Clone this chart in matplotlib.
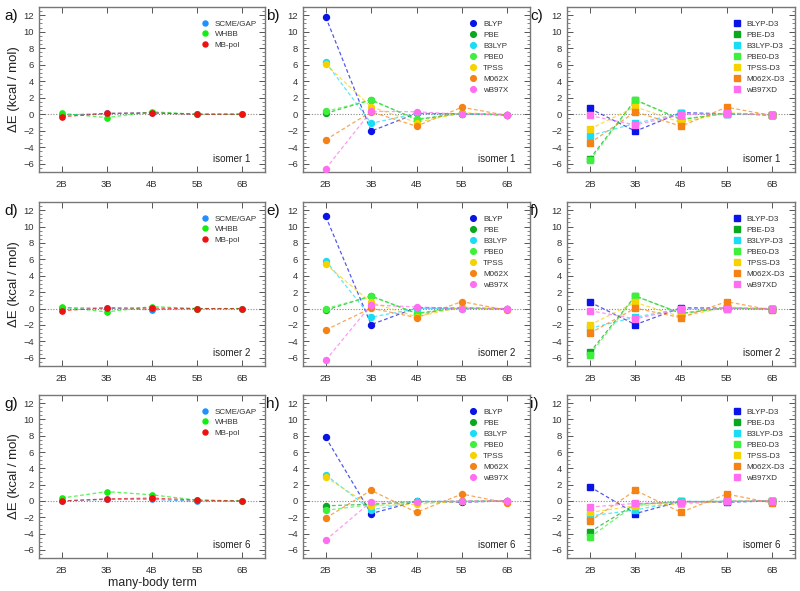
import matplotlib
matplotlib.use("Agg")
import matplotlib.pyplot as plt
from matplotlib.ticker import MultipleLocator

terms = ["2B", "3B", "4B", "5B", "6B"]

ff_names = ["SCME/GAP", "WHBB", "MB-pol"]
ff_colors = ["#1e90ff", "#11ee11", "#ee1111"]
dft_names = ["BLYP", "PBE", "B3LYP", "PBE0", "TPSS", "M062X", "wB97X"]
d3_names = ["BLYP-D3", "PBE-D3", "B3LYP-D3", "PBE0-D3", "TPSS-D3", "M062X-D3", "wB97XD"]
dft_colors = ["#0a14e6", "#0aa81e", "#19dcf5", "#3cf03c", "#f5d200", "#f58214", "#ff6ef0"]

# isomer 1
ff_iso1 = [[-0.1, 0.1, 0.2, 0.0, 0.0],
           [0.1, -0.4, 0.3, 0.0, 0.0],
           [-0.3, 0.1, 0.15, 0.0, 0.0]]
dft_iso1 = [[11.8, -2.05, 0.1, 0.05, -0.05],
            [0.1, 1.75, -0.65, 0.1, -0.1],
            [6.3, -1.1, 0.1, 0.0, -0.05],
            [0.35, 1.7, -0.6, 0.1, -0.1],
            [6.05, 0.9, -1.0, 0.2, -0.1],
            [-3.1, 0.3, -1.45, 0.85, -0.15],
            [-6.6, 0.35, 0.3, 0.0, -0.05]]
d3_iso1 = [[0.7, -2.05, 0.2, 0.05, -0.05],
           [-5.4, 1.75, -0.65, 0.1, -0.1],
           [-2.6, -1.1, 0.1, 0.0, -0.05],
           [-5.6, 1.7, -0.6, 0.1, -0.1],
           [-1.8, 0.9, -1.0, 0.2, -0.1],
           [-3.5, 0.3, -1.45, 0.85, -0.15],
           [-0.15, -1.3, -0.05, 0.1, -0.1]]

# isomer 2
ff_iso2 = [[0.1, 0.05, -0.15, 0.0, 0.0],
           [0.2, -0.4, 0.25, 0.0, 0.0],
           [-0.25, 0.1, 0.05, 0.0, 0.0]]
dft_iso2 = [[11.25, -1.95, 0.1, 0.05, 0.0],
            [-0.2, 1.55, -0.6, 0.1, -0.1],
            [5.85, -1.05, 0.0, 0.0, 0.0],
            [0.0, 1.5, -0.55, 0.1, -0.1],
            [5.4, 0.75, -1.0, 0.2, -0.1],
            [-2.6, 0.05, -1.1, 0.85, -0.2],
            [-6.3, 0.45, 0.2, 0.0, 0.0]]
d3_iso2 = [[0.8, -1.95, 0.1, 0.05, 0.0],
           [-5.35, 1.55, -0.6, 0.1, -0.1],
           [-2.4, -1.05, 0.0, 0.0, 0.0],
           [-5.65, 1.5, -0.55, 0.1, -0.1],
           [-2.0, 0.75, -1.0, 0.2, -0.1],
           [-3.0, 0.05, -1.1, 0.85, -0.2],
           [-0.25, -1.25, -0.05, 0.0, 0.0]]

# isomer 6
ff_iso6 = [[0.0, 0.2, 0.2, -0.05, 0.0],
           [0.35, 1.15, 0.75, 0.1, 0.0],
           [0.0, 0.25, 0.35, 0.1, 0.0]]
dft_iso6 = [[7.8, -1.55, -0.05, -0.15, 0.0],
            [-0.6, -0.4, -0.1, -0.05, 0.0],
            [3.2, -1.1, -0.05, -0.05, 0.0],
            [-1.15, -0.45, -0.1, -0.05, 0.0],
            [2.9, -0.6, -0.4, -0.05, 0.0],
            [-2.1, 1.3, -1.4, 0.85, -0.25],
            [-4.8, -0.1, -0.1, 0.0, 0.05]]
d3_iso6 = [[1.75, -1.55, -0.05, -0.15, 0.0],
           [-3.8, -0.4, -0.1, -0.05, 0.0],
           [-1.85, -1.1, -0.05, -0.05, 0.0],
           [-4.45, -0.45, -0.1, -0.05, 0.0],
           [-1.4, -0.6, -0.4, -0.05, 0.0],
           [-2.5, 1.3, -1.4, 0.85, -0.25],
           [-0.75, -0.3, -0.2, -0.05, 0.05]]

isomers = ["isomer 1", "isomer 2", "isomer 6"]
panel_letters = [["a)", "b)", "c)"], ["d)", "e)", "f)"], ["g)", "h)", "i)"]]
rows = [(ff_iso1, dft_iso1, d3_iso1), (ff_iso2, dft_iso2, d3_iso2), (ff_iso6, dft_iso6, d3_iso6)]

plt.rcParams['font.family'] = ['Liberation Sans', 'DejaVu Sans']

W, H = 800, 591
fig = plt.figure(figsize=(8, 5.91), dpi=100)

col_lr = [(39, 265), (303, 530), (567, 795)]
row_tb = [(7, 172), (202, 366), (395, 558)]

xpos = list(range(2, 7))
edge = "#777777"

for r in range(3):
    for c in range(3):
        l, rr = col_lr[c]
        t, b = row_tb[r]
        ax = fig.add_axes([l / W, 1 - b / H, (rr - l) / W, (b - t) / H])
        if c == 0:
            names, colors, marker, ms = ff_names, ff_colors, "o", 3.8
            anchor, lsp = (1.0, 0.97), 0.35
        elif c == 1:
            names, colors, marker, ms = dft_names, dft_colors, "o", 4.3
            anchor, lsp = (0.94, 0.97), 0.42
        else:
            names, colors, marker, ms = d3_names, dft_colors, "s", 3.8
            anchor, lsp = (0.99, 0.97), 0.42
        data = rows[r][c]
        ax.axhline(0, color="#888888", lw=0.8, ls=(0, (1, 1.5)), zorder=1)
        for name, col, vals in zip(names, colors, data):
            ax.plot(xpos, vals, ls=(0, (3, 2)), lw=0.9, color=col, alpha=0.7, zorder=2)
            ax.plot(xpos, vals, ls="none", marker=marker, ms=ms, color=col,
                    label=name, zorder=3)
        ax.set_xlim(1.5, 6.5)
        ax.set_ylim(-7, 13)
        ax.set_xticks(xpos)
        ax.set_xticklabels(terms)
        ax.set_yticks(range(-6, 13, 2))
        ax.yaxis.set_minor_locator(MultipleLocator(0.5))
        ax.tick_params(which="both", direction="in", top=True, right=True,
                       labelsize=6.8, colors="#555555", labelcolor="#333333")
        ax.tick_params(axis="x", pad=6)
        ax.tick_params(which="major", length=4, width=0.7)
        ax.tick_params(which="minor", length=2, width=0.5)
        for sp in ax.spines.values():
            sp.set_color(edge)
            sp.set_linewidth(1.0)
        leg = ax.legend(loc="upper right", frameon=False, fontsize=5.8,
                        handletextpad=0.2, labelspacing=lsp,
                        borderaxespad=0.6, markerscale=0.95,
                        bbox_to_anchor=anchor)
        for txt in leg.get_texts():
            txt.set_color("#333333")
        ax.text(0.935, 0.05, isomers[r], transform=ax.transAxes, ha="right",
                va="bottom", fontsize=7, color="#222222")
        fig.text((l - (35 if c == 0 else 37)) / W, 1 - (t + 9) / H, panel_letters[r][c],
                 fontsize=11, ha="left", va="center", color="#111111")
        if c == 0:
            ax.set_ylabel("ΔE (kcal / mol)", fontsize=9.5, labelpad=2, color="#222222")
        if r == 2 and c == 0:
            ax.set_xlabel("many-body term", fontsize=8.8, labelpad=1.5, color="#222222")

fig.savefig("out.png", dpi=100)
